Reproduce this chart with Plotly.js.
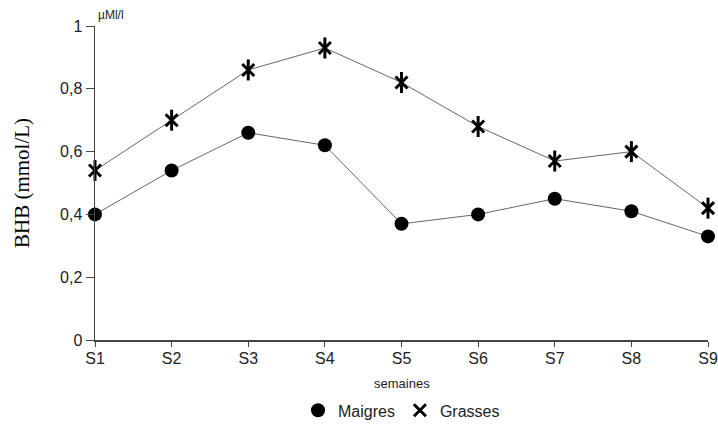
<!DOCTYPE html>
<html>
<head>
<meta charset="utf-8">
<script src="https://cdn.plot.ly/plotly-3.0.1.min.js"></script>
<style>html,body{margin:0;padding:0;background:#fff}#chart{width:718px;height:432px}</style>
</head>
<body>
<div id="chart"></div>
<script>
const weeks = ["S1","S2","S3","S4","S5","S6","S7","S8","S9"];
const maigres = [0.40,0.54,0.66,0.62,0.37,0.40,0.45,0.41,0.33];
const grasses = [0.54,0.70,0.86,0.93,0.82,0.68,0.57,0.60,0.42];
const yTickVals = [0,0.2,0.4,0.6,0.8,1];
const yTickText = ["0","0,2","0,4","0,6","0,8","1"];
const xIdx = weeks.map((w,i)=>i);

const lineCol = "#666";
const traces = [
  {x:xIdx, y:maigres, mode:"lines", showlegend:false, line:{color:lineCol,width:1}},
  {x:xIdx, y:grasses, mode:"lines", showlegend:false, line:{color:lineCol,width:1}},
  {x:xIdx, y:maigres, name:"Maigres", mode:"markers", cliponaxis:false,
   marker:{symbol:"circle",size:14,color:"#000"}},
  {x:xIdx, y:grasses, name:"Grasses", mode:"markers", cliponaxis:false, legendgroup:"g",
   marker:{symbol:"x-thin-open",size:12,color:"#000",line:{width:3,color:"#000"}}},
  {x:xIdx, y:grasses, name:"Grasses", mode:"markers", cliponaxis:false, legendgroup:"g", showlegend:false,
   marker:{symbol:"line-ns-open",size:15,color:"#000",line:{width:3,color:"#000"}}}
];
const layout = {
  width:718, height:432,
  margin:{l:95,r:10,t:26,b:92},
  paper_bgcolor:"#fff", plot_bgcolor:"#fff",
  font:{family:"Liberation Sans, Arial, sans-serif", color:"#222", size:14},
  showlegend:true,
  legend:{orientation:"h", x:0.5, xanchor:"center", yref:"container", y:0.05, yanchor:"middle",
    font:{size:16,color:"#222"}, itemwidth:30, tracegroupgap:0},
  xaxis:{range:[0,8], tickvals:xIdx, ticktext:weeks, showgrid:false, zeroline:false, automargin:false,
    showline:true, linecolor:"#444", linewidth:1.5, ticks:"outside", ticklen:5, tickcolor:"#444",
    tickfont:{size:16}, ticklabelstandoff:-2},
  yaxis:{range:[0,1], tickvals:yTickVals, ticktext:yTickText, showgrid:false, zeroline:false, automargin:false,
    showline:true, linecolor:"#444", linewidth:1.5, ticks:"outside", ticklen:8, tickcolor:"#444",
    tickfont:{size:16}, title:{text:"BHB (mmol/L)", font:{family:"Liberation Serif, Times New Roman, serif", size:21, color:"#000"}, standoff:24}},
  annotations:[
    {xref:"paper", yref:"paper", x:0, y:1, xanchor:"left", yanchor:"bottom", xshift:1, yshift:2,
     text:"µMl/l", showarrow:false, font:{size:12,color:"#222"}},
    {xref:"paper", yref:"paper", x:0.5, y:0, xanchor:"center", yanchor:"middle", yshift:-43,
     text:"semaines", showarrow:false, font:{size:13,color:"#222"}}
  ]
};
Plotly.newPlot("chart", traces, layout, {staticPlot:true});
</script>
</body>
</html>
